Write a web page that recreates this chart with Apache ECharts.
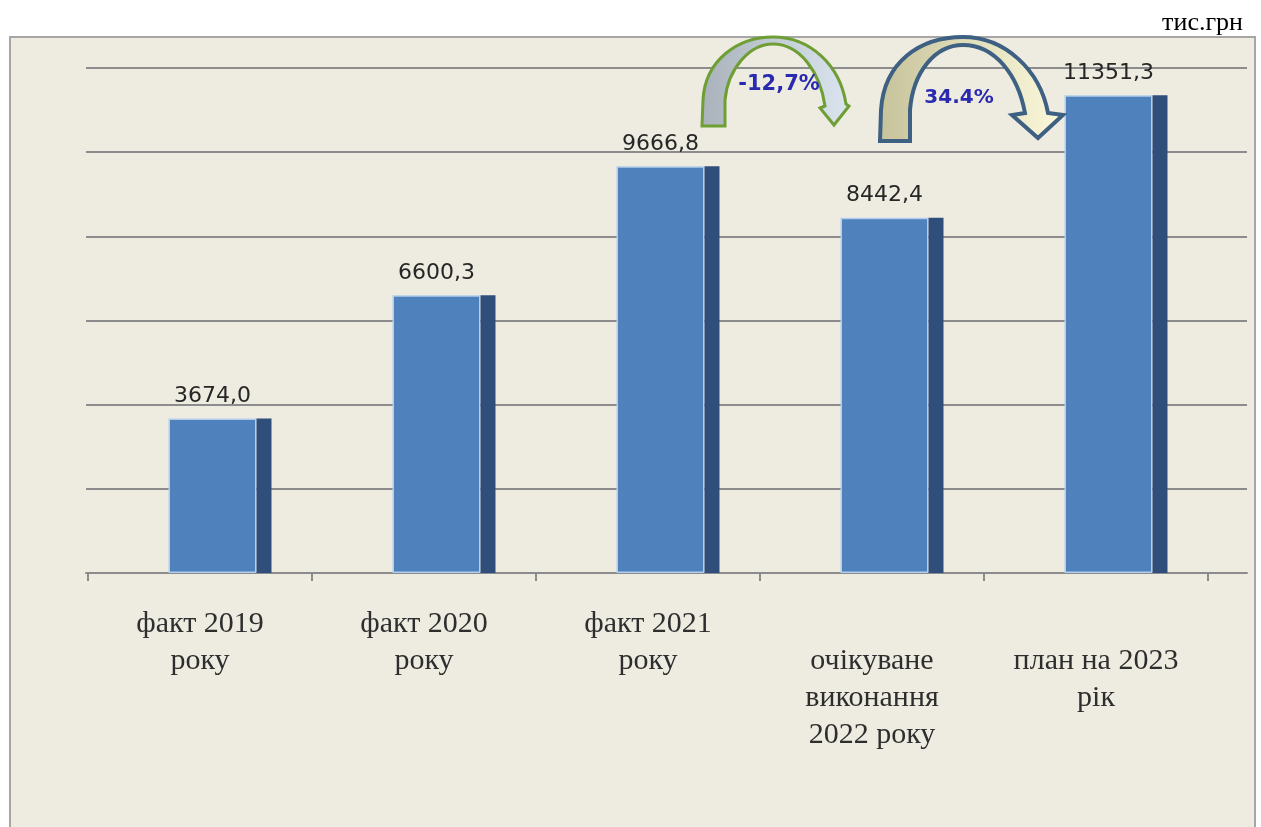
<!DOCTYPE html>
<html>
<head>
<meta charset="utf-8">
<script src="https://cdn.jsdelivr.net/npm/echarts@6/dist/echarts.min.js"></script>
<style>html,body{margin:0;padding:0;background:#fff}#c{width:1261px;height:827px}</style>
</head>
<body>
<div id="c"></div>
<script>
var categories = ['факт 2019\nроку', 'факт 2020\nроку', 'факт 2021\nроку', 'очікуване\nвиконання\n2022 року', 'план на 2023\nрік'];
var values = [3674.0, 6600.3, 9666.8, 8442.4, 11351.3];
var changeLabels = ['-12,7%', '34.4%'];
var unitLabel = 'тис.грн';

echarts.graphic.registerShape('arrowGreen', echarts.graphic.extendShape({
  shape: {},
  buildPath: function (ctx) {
    ctx.moveTo(702, 126); ctx.lineTo(703, 100);
    ctx.bezierCurveTo(705, 60, 738, 37, 773, 37);
    ctx.bezierCurveTo(810, 37, 840, 65, 846, 104);
    ctx.lineTo(849, 106); ctx.lineTo(834, 125); ctx.lineTo(820, 108); ctx.lineTo(825, 106);
    ctx.bezierCurveTo(820, 72, 800, 44, 773, 44);
    ctx.bezierCurveTo(750, 44, 728, 68, 725, 100);
    ctx.lineTo(725, 126); ctx.closePath();
  }
}));
echarts.graphic.registerShape('arrowBlue', echarts.graphic.extendShape({
  shape: {},
  buildPath: function (ctx) {
    ctx.moveTo(880, 141); ctx.lineTo(881, 110);
    ctx.bezierCurveTo(884, 62, 920, 37, 963, 37);
    ctx.bezierCurveTo(1005, 37, 1040, 70, 1048, 113);
    ctx.lineTo(1063, 115); ctx.lineTo(1038, 138); ctx.lineTo(1012, 115); ctx.lineTo(1025, 113);
    ctx.bezierCurveTo(1018, 75, 995, 45, 963, 45);
    ctx.bezierCurveTo(935, 45, 913, 72, 910, 110);
    ctx.lineTo(910, 141); ctx.closePath();
  }
}));

var chart = echarts.init(document.getElementById('c'));
function fmt(v) { return v.toFixed(1).replace('.', ','); }

var option = {
  backgroundColor: '#ffffff',
  animation: false,
  title: {
    text: unitLabel, right: 18, top: 10, padding: 0,
    textStyle: { fontFamily: 'Liberation Serif', fontSize: 26, fontWeight: 'normal', color: '#000' }
  },
  grid: [
    { left: 86, right: 14, top: 68, bottom: 254 },
    { left: 88, right: 53, top: 68, bottom: 254 }
  ],
  xAxis: [
    { gridIndex: 0, type: 'value', min: 0, max: 1,
      axisLine: { show: true, lineStyle: { color: '#8c8c8c', width: 2 } },
      axisTick: { show: false }, axisLabel: { show: false }, splitLine: { show: false } },
    { gridIndex: 1, type: 'category', data: categories,
      axisLine: { show: false },
      axisTick: { show: true, length: 8, inside: false, lineStyle: { color: '#8c8c8c', width: 2 } },
      axisLabel: {
        margin: 33, interval: 0,
        fontFamily: 'Liberation Serif', fontSize: 30, lineHeight: 37, color: '#2e2e2e',
        formatter: function (v, i) { return (i >= 3 ? '\n' : '') + v; }
      } }
  ],
  yAxis: [
    { gridIndex: 0, type: 'value', min: 0, max: 12000, interval: 2000,
      axisLine: { show: false }, axisTick: { show: false }, axisLabel: { show: false },
      splitLine: { show: true, lineStyle: { color: '#8c8c8c', width: 2 } } },
    { gridIndex: 1, type: 'value', min: 0, max: 12000, interval: 2000, show: false }
  ],
  graphic: [
    { type: 'rect', z: -10, silent: true,
      shape: { x: 10, y: 37, width: 1245, height: 820 },
      style: { fill: '#eeece1', stroke: '#a6a6a6', lineWidth: 2 } },
    { type: 'arrowGreen', z: 100, silent: true, shape: {},
      style: { fill: new echarts.graphic.LinearGradient(0, 0, 1, 0, [{ offset: 0, color: '#a9b2ba' }, { offset: 1, color: '#dbe6f0' }]), stroke: '#6e9e34', lineWidth: 3 } },
    { type: 'arrowBlue', z: 100, silent: true, shape: {},
      style: { fill: new echarts.graphic.LinearGradient(0, 0, 1, 0, [{ offset: 0, color: '#c6c29a' }, { offset: 1, color: '#fcfadc' }]), stroke: '#3e6082', lineWidth: 4 } },
    { type: 'text', z: 101, silent: true, x: 779, y: 85,
      style: { text: changeLabels[0], fontFamily: 'DejaVu Sans', fontWeight: 'bold', fontSize: 21, fill: '#2a2ab0', align: 'center', verticalAlign: 'middle' } },
    { type: 'text', z: 101, silent: true, x: 959, y: 98,
      style: { text: changeLabels[1], fontFamily: 'DejaVu Sans', fontWeight: 'bold', fontSize: 20, fill: '#2a2ab0', align: 'center', verticalAlign: 'middle' } }
  ],
  series: [
    { type: 'bar', xAxisIndex: 1, yAxisIndex: 1, data: values, barWidth: 40, barGap: '0%',
      itemStyle: { color: 'rgba(0,0,0,0)' }, silent: true },
    { type: 'bar', xAxisIndex: 1, yAxisIndex: 1, data: values, barWidth: 88, barGap: '0%',
      itemStyle: { color: '#4f81bd', borderColor: '#b3cdec', borderWidth: 1.5 },
      label: { show: true, position: 'top', distance: 11, fontFamily: 'DejaVu Sans', fontSize: 22, color: '#262626',
        formatter: function (p) { return fmt(p.value); } } },
    { type: 'bar', xAxisIndex: 1, yAxisIndex: 1, data: values, barWidth: 15, barGap: '0%',
      itemStyle: { color: '#2f4f7a' } }
  ]
};
chart.setOption(option);
</script>
</body>
</html>
